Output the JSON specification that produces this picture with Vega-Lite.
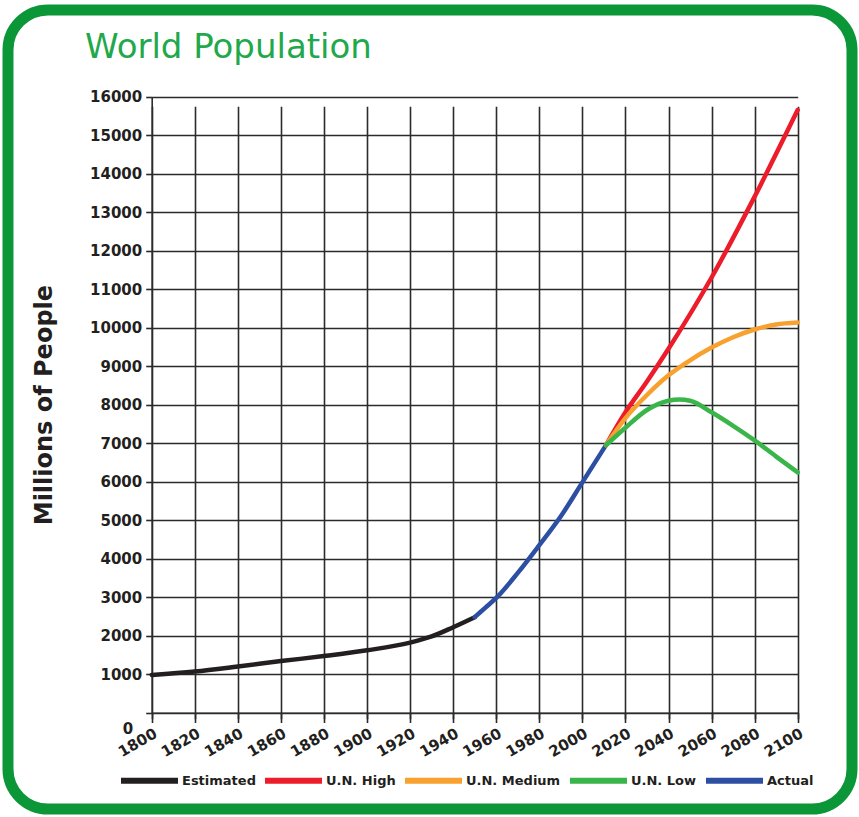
{
  "$schema": "https://vega.github.io/schema/vega-lite/v6.json",
  "autosize": {"type": "none"},
  "padding": {"left": 8, "top": 10, "right": 7, "bottom": 8},
  "width": 844,
  "height": 799,
  "background": "white",
  "config": {
    "view": {"stroke": "#0b9637", "strokeWidth": 11, "cornerRadius": 40, "fill": "white"},
    "axis": {
      "labelFont": "DejaVu Sans",
      "labelFontWeight": "bold",
      "labelFontSize": 15,
      "labelColor": "#231f20",
      "gridColor": "#2b2b2b",
      "gridWidth": 1.6,
      "gridOpacity": 1,
      "domainColor": "#2b2b2b",
      "domainWidth": 1.6,
      "tickColor": "#2b2b2b",
      "tickWidth": 1.6,
      "tickSize": 6
    }
  },
  "title": {
    "text": "World Population",
    "anchor": "start",
    "frame": "group",
    "orient": "top",
    "font": "DejaVu Sans",
    "fontWeight": "normal",
    "fontSize": 34,
    "color": "#1fa84c",
    "dx": 77,
    "offset": -82,
    "baseline": "alphabetic"
  },
  "data": {
    "values": [
      {"year": 1800, "pop": 980, "series": "Estimated"},
      {"year": 1820, "pop": 1070, "series": "Estimated"},
      {"year": 1840, "pop": 1200, "series": "Estimated"},
      {"year": 1860, "pop": 1340, "series": "Estimated"},
      {"year": 1880, "pop": 1470, "series": "Estimated"},
      {"year": 1900, "pop": 1620, "series": "Estimated"},
      {"year": 1920, "pop": 1820, "series": "Estimated"},
      {"year": 1930, "pop": 1980, "series": "Estimated"},
      {"year": 1940, "pop": 2220, "series": "Estimated"},
      {"year": 1950, "pop": 2480, "series": "Estimated"},
      {"year": 1950, "pop": 2480, "series": "Actual"},
      {"year": 1955, "pop": 2730, "series": "Actual"},
      {"year": 1960, "pop": 2980, "series": "Actual"},
      {"year": 1970, "pop": 3630, "series": "Actual"},
      {"year": 1980, "pop": 4350, "series": "Actual"},
      {"year": 1990, "pop": 5100, "series": "Actual"},
      {"year": 2000, "pop": 5980, "series": "Actual"},
      {"year": 2011, "pop": 6950, "series": "Actual"},
      {"year": 2011, "pop": 6950, "series": "U.N. High"},
      {"year": 2020, "pop": 7800, "series": "U.N. High"},
      {"year": 2030, "pop": 8600, "series": "U.N. High"},
      {"year": 2040, "pop": 9450, "series": "U.N. High"},
      {"year": 2060, "pop": 11300, "series": "U.N. High"},
      {"year": 2080, "pop": 13400, "series": "U.N. High"},
      {"year": 2100, "pop": 15650, "series": "U.N. High"},
      {"year": 2011, "pop": 6950, "series": "U.N. Medium"},
      {"year": 2020, "pop": 7650, "series": "U.N. Medium"},
      {"year": 2030, "pop": 8250, "series": "U.N. Medium"},
      {"year": 2040, "pop": 8760, "series": "U.N. Medium"},
      {"year": 2050, "pop": 9150, "series": "U.N. Medium"},
      {"year": 2060, "pop": 9480, "series": "U.N. Medium"},
      {"year": 2070, "pop": 9750, "series": "U.N. Medium"},
      {"year": 2080, "pop": 9950, "series": "U.N. Medium"},
      {"year": 2090, "pop": 10080, "series": "U.N. Medium"},
      {"year": 2100, "pop": 10130, "series": "U.N. Medium"},
      {"year": 2011, "pop": 6950, "series": "U.N. Low"},
      {"year": 2020, "pop": 7400, "series": "U.N. Low"},
      {"year": 2030, "pop": 7860, "series": "U.N. Low"},
      {"year": 2040, "pop": 8100, "series": "U.N. Low"},
      {"year": 2045, "pop": 8130, "series": "U.N. Low"},
      {"year": 2050, "pop": 8100, "series": "U.N. Low"},
      {"year": 2060, "pop": 7800, "series": "U.N. Low"},
      {"year": 2070, "pop": 7450, "series": "U.N. Low"},
      {"year": 2080, "pop": 7070, "series": "U.N. Low"},
      {"year": 2090, "pop": 6650, "series": "U.N. Low"},
      {"year": 2100, "pop": 6240, "series": "U.N. Low"}
    ]
  },
  "mark": {"type": "line", "interpolate": "monotone", "strokeWidth": 4.5, "strokeCap": "round"},
  "encoding": {
    "x": {
      "field": "year",
      "type": "quantitative",
      "scale": {"domain": [1800, 2100], "range": [143.7, 789.7], "nice": false, "zero": false},
      "axis": {
        "title": null,
        "values": [1800, 1820, 1840, 1860, 1880, 1900, 1920, 1940, 1960, 1980, 2000, 2020, 2040, 2060, 2080, 2100],
        "format": "d",
        "offset": -96.3,
        "labelAngle": -30,
        "labelAlign": "right",
        "labelBaseline": "top",
        "labelPadding": 7,
        "labelDx": 14,
        "labelOverlap": false,
        "labelFlush": false
      }
    },
    "y": {
      "field": "pop",
      "type": "quantitative",
      "scale": {"domain": [0, 16000], "range": [702.7, 86.5], "nice": false},
      "axis": {
        "title": "Millions of People",
        "titleFont": "DejaVu Sans",
        "titleFontWeight": "bold",
        "titleFontSize": 24,
        "titleColor": "#231f20",
        "titlePadding": 33,
        "values": [0, 1000, 2000, 3000, 4000, 5000, 6000, 7000, 8000, 9000, 10000, 11000, 12000, 13000, 14000, 15000, 16000],
        "format": "d",
        "offset": -143.7,
        "labelOverlap": false,
        "labelFlush": false,
        "labelPadding": {"condition": {"test": "datum.value === 0", "value": 13}, "value": 4},
        "labelOffset": {"condition": {"test": "datum.value === 0", "value": 16}, "value": 0}
      }
    },
    "color": {
      "field": "series",
      "type": "nominal",
      "scale": {
        "domain": ["Estimated", "U.N. High", "U.N. Medium", "U.N. Low", "Actual"],
        "range": ["#231f20", "#ec1c2a", "#f8a12e", "#3ab54a", "#2c4fa3"]
      },
      "legend": {
        "title": null,
        "orient": "none",
        "direction": "horizontal",
        "legendX": 110,
        "legendY": 739,
        "symbolType": "stroke",
        "symbolSize": 3249,
        "symbolStrokeWidth": 6,
        "labelFont": "DejaVu Sans",
        "labelFontWeight": "bold",
        "labelFontSize": 13,
        "labelColor": "#231f20",
        "labelOffset": 1,
        "columnPadding": -3,
        "symbolOffset": 0
      }
    }
  }
}
